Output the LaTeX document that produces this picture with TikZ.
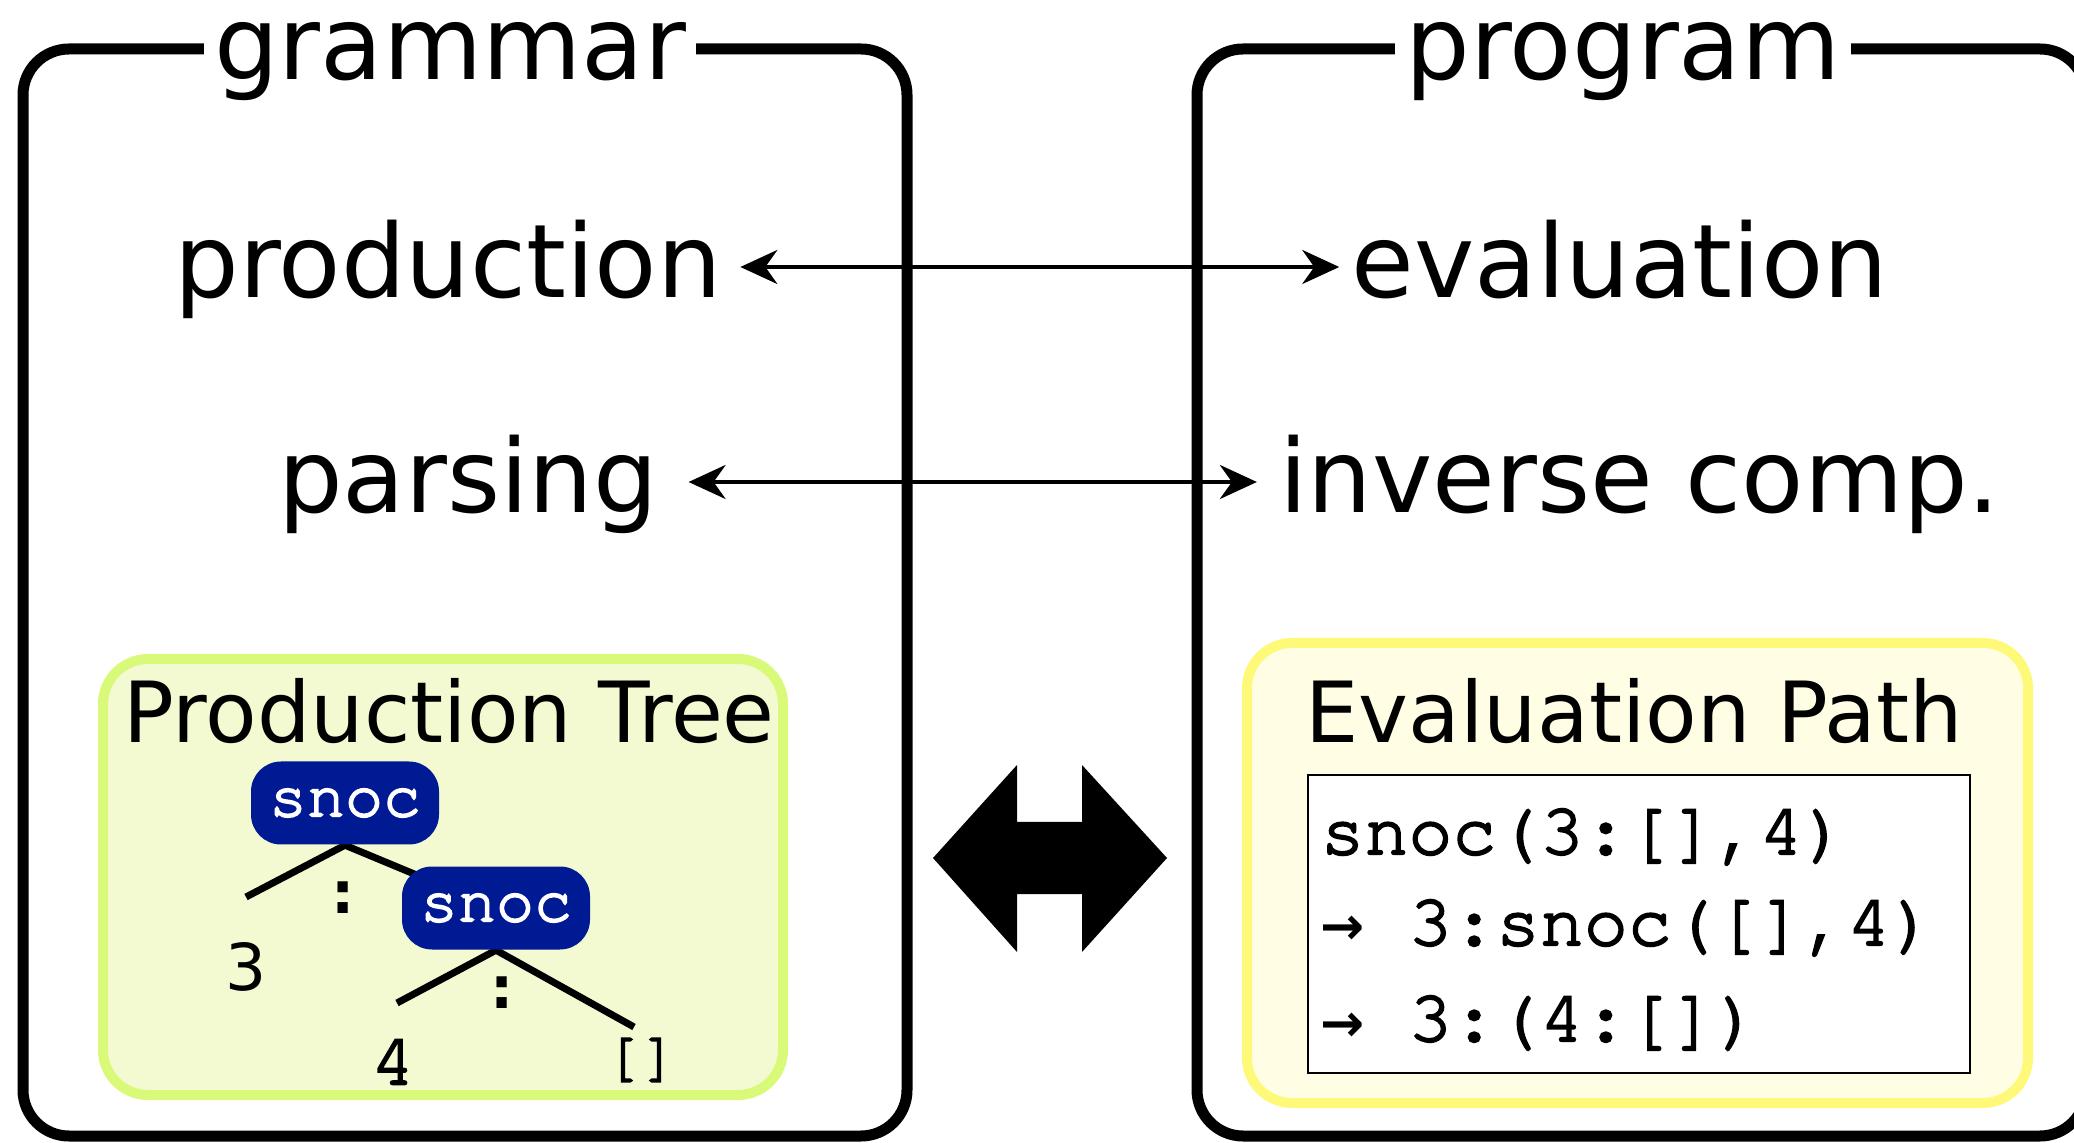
\documentclass[tikz,border=0pt]{standalone}
\usepackage{fontspec}
\setmainfont{DejaVu Sans}
\newfontfamily\codefont[FakeBold=3]{TeX Gyre Cursor}
\newfontfamily\arrowfont{DejaVu Sans}
\usetikzlibrary{arrows.meta}
\definecolor{treefill}{HTML}{F3F9D0}
\definecolor{treeedge}{HTML}{D8FA78}
\definecolor{pathfill}{HTML}{FFFEE5}
\definecolor{pathedge}{HTML}{FFF97A}
\definecolor{snocblue}{HTML}{001A94}
\pgfdeclarelayer{bg}
\pgfdeclarelayer{mid}
\pgfsetlayers{bg,mid,main}
\begin{document}
\begin{tikzpicture}[x=0.1mm,y=-0.1mm,
  frame/.style={draw=black, line width=1.1mm, rounded corners=4.6mm},
  frametitle/.style={fill=white, inner xsep=1mm, inner ysep=0pt, anchor=base,
    font=\fontsize{29}{34}\selectfont},
  biglabel/.style={anchor=base, inner sep=0pt, text height=8.4mm, text depth=2.2mm,
    font=\fontsize{29}{34}\selectfont},
  tip/.tip={Stealth[length=3.7mm,width=3.4mm,inset=1.2mm]},
  link/.style={line width=0.4mm, tip-tip},
  treebox/.style={fill=treefill, draw=treeedge, line width=1mm, rounded corners=4.5mm},
  pathbox/.style={fill=pathfill, draw=pathedge, line width=1mm, rounded corners=4.5mm},
  boxtitle/.style={anchor=base, inner sep=0pt, font=\fontsize{24}{29}\selectfont},
  snocnode/.style={fill=snocblue, text=white, rounded corners=3mm, inner sep=0pt,
    minimum width=18.8mm, minimum height=8.3mm, font=\codefont\fontsize{18}{20}\selectfont},
  treeline/.style={line width=0.7mm},
  leafsans/.style={inner sep=0pt, font=\fontsize{18.4}{20}\selectfont},
  colon/.style={inner sep=0pt, font=\bfseries\fontsize{16.5}{18}\selectfont},
  codebox/.style={fill=white, draw=black, line width=0.2mm},
  code/.style={anchor=base west, inner sep=0pt, font=\codefont\fontsize{20.8}{24}\selectfont}
]
\useasboundingbox (0,0) rectangle (2074,1143);

% outer frames
\draw[frame] (23,49) rectangle (907,1136);
\draw[frame] (1197,49) rectangle (2086,1136);
\node[frametitle] (tgram) at (450,80) {grammar};
\node[frametitle] (tprog) at (1623,80) {program};

% concept labels
\node[biglabel] (production) at (448,298) {production};
\node[biglabel] (evaluation) at (1620,298) {evaluation};
\node[biglabel] (parsing) at (468,513) {parsing};
\node[biglabel] (inverse) at (1640,513) {inverse comp.};
\draw[link, shorten <=1.8mm, shorten >=1.2mm] (production.east) -- (evaluation.west);
\draw[link, shorten <=3mm, shorten >=2.2mm] (parsing.east) -- (inverse.west);

% production tree panel
\begin{pgfonlayer}{bg}
\draw[treebox] (103,659) rectangle (783,1095);
\end{pgfonlayer}
\node[boxtitle] (ptitle) at (449,743) {Production Tree};
\node[snocnode] (s1) at (345,803) {snoc};
\node[snocnode] (s2) at (496,908) {snoc};
\coordinate (l1) at (246,897);
\coordinate (l2) at (397,1003);
\coordinate (l3) at (634,1027);
\begin{pgfonlayer}{mid}
\draw[treeline] (l1) -- (s1.south) -- (s2.center);
\draw[treeline] (l2) -- (s2.south) -- (l3);
\end{pgfonlayer}
\node[colon] (c1) at (343,898) {:};
\node[colon] (c2) at (502,993) {:};
\node[leafsans] (n3) at (246,967) {3};
\node[inner sep=0pt, font=\codefont\fontsize{21}{24}\selectfont] (n4) at (393,1062) {4};
\node[inner sep=0pt, font=\codefont\fontsize{17}{19}\selectfont] (nil) at (641,1060) {[]};

% evaluation path panel
\draw[pathbox] (1247,643) rectangle (2028,1103);
\node[boxtitle] (etitle) at (1634,743) {Evaluation Path};
\draw[codebox] (1308,775) rectangle (1970,1073);
\newcommand{\evarrow}{\makebox[0.6em][l]{\arrowfont\bfseries\fontsize{15}{15}\selectfont →}}
\node[code] (e1) at (1320,854) {snoc(3:[],4)};
\node[code] (e2) at (1320,945) {\evarrow{} 3:snoc([],4)};
\node[code] (e3) at (1320,1041) {\evarrow{} 3:(4:[])};

% big double arrow
\fill (933,858) -- (1017,765) -- (1017,822) -- (1082,822) -- (1082,765) -- (1167,858)
  -- (1082,952) -- (1082,894) -- (1017,894) -- (1017,952) -- cycle;
\end{tikzpicture}
\end{document}
